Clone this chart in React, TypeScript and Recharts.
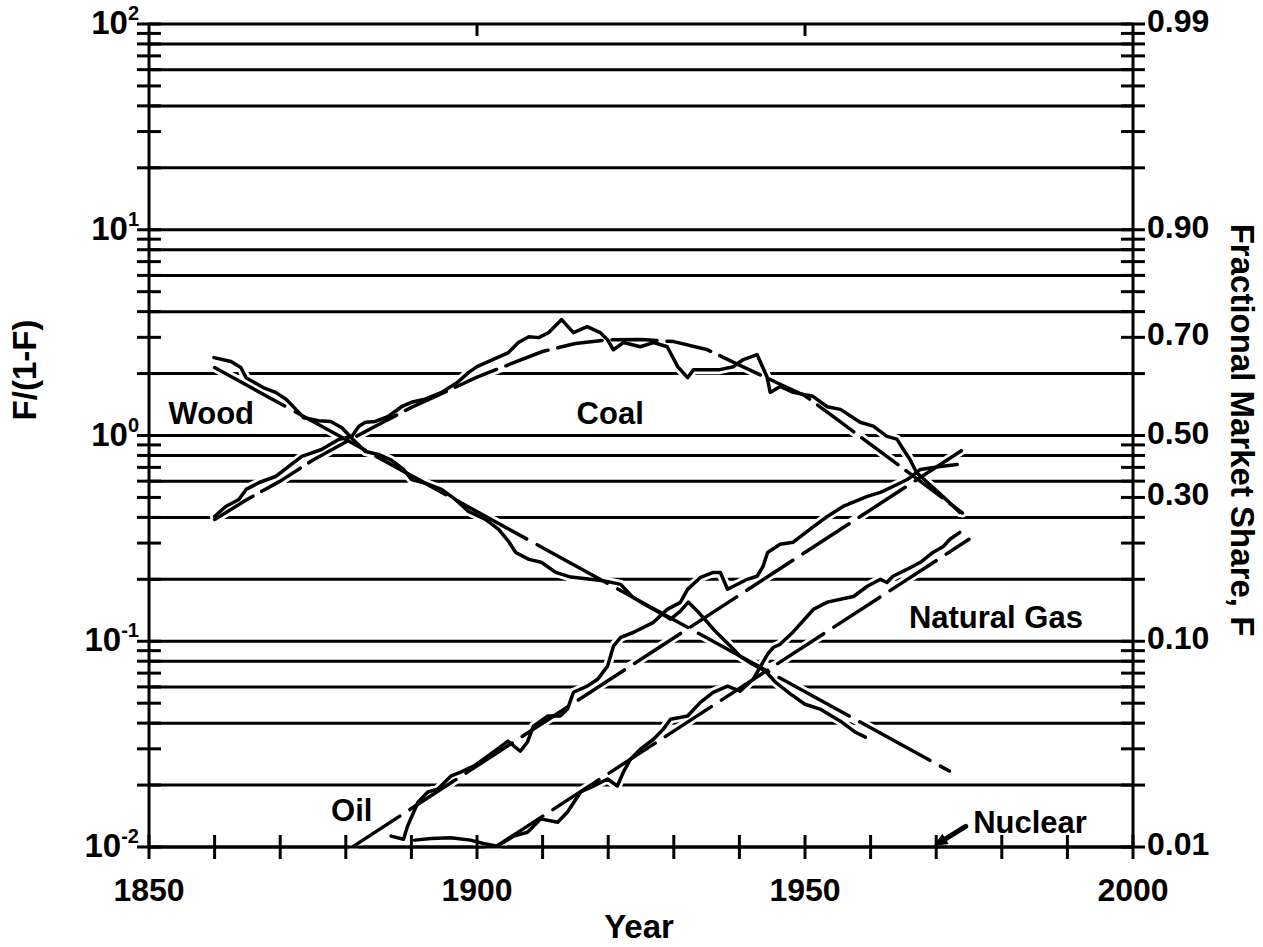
import { LineChart, Line, XAxis, YAxis, ReferenceDot, ReferenceLine } from 'recharts';

// F/(1-F), per year
const woodYears = [1859.9, 1862.5, 1864.0, 1864.8, 1867.4, 1869.3, 1870.9, 1872.4, 1873.6, 1875.9, 1877.7, 1879.4, 1881.1, 1883.0, 1885.0, 1887.0, 1888.8, 1890.0, 1892.2, 1894.6, 1896.7, 1898.7, 1901.3, 1903.3, 1904.8, 1905.9, 1907.9, 1909.8, 1912.0, 1914.3, 1917.3, 1919.6, 1921.9, 1923.7, 1925.7, 1928.0, 1929.5, 1931.0, 1932.2, 1933.6, 1935.1, 1936.3, 1937.6, 1939.1, 1940.1, 1942.0, 1944.0, 1945.5, 1947.8, 1950.0, 1952.3, 1955.4, 1957.7, 1959.2];
const woodShare = [2.39, 2.29, 2.14, 1.91, 1.71, 1.62, 1.5, 1.34, 1.22, 1.18, 1.17, 1.09, 0.956, 0.836, 0.809, 0.757, 0.684, 0.611, 0.585, 0.547, 0.489, 0.428, 0.391, 0.35, 0.306, 0.27, 0.25, 0.242, 0.216, 0.205, 0.2, 0.196, 0.189, 0.164, 0.15, 0.137, 0.128, 0.14, 0.155, 0.14, 0.124, 0.112, 0.102, 0.0914, 0.0845, 0.0773, 0.0715, 0.0632, 0.0553, 0.0494, 0.0468, 0.0409, 0.0361, 0.0342];

const woodFitYears = [1860, 1972];
const woodFitShare = [2.14, 0.0234];

const coalYears = [1860.0, 1861.7, 1863.7, 1864.8, 1866.8, 1869.3, 1871.3, 1873.3, 1876.3, 1878.9, 1880.9, 1882.0, 1883.0, 1884.5, 1886.5, 1888.5, 1890.0, 1892.0, 1894.6, 1897.0, 1898.7, 1900.0, 1901.8, 1904.8, 1906.3, 1907.9, 1909.4, 1910.9, 1912.9, 1914.7, 1916.8, 1918.8, 1919.9, 1920.8, 1922.3, 1924.9, 1926.9, 1929.0, 1930.6, 1932.1, 1933.0, 1935.1, 1937.0, 1939.1, 1940.6, 1942.7, 1944.2, 1944.7, 1946.2, 1948.2, 1951.2, 1953.4, 1955.4, 1958.4, 1960.4, 1962.5, 1964.0, 1965.0, 1966.0, 1967.0, 1969.0, 1971.0, 1973.6];
const coalShare = [0.404, 0.452, 0.489, 0.547, 0.591, 0.632, 0.707, 0.791, 0.855, 0.956, 0.989, 1.11, 1.16, 1.17, 1.24, 1.38, 1.45, 1.5, 1.62, 1.81, 2.02, 2.16, 2.29, 2.53, 2.83, 3.02, 2.99, 3.16, 3.66, 3.16, 3.38, 3.16, 2.92, 2.61, 2.83, 2.7, 2.83, 2.7, 2.16, 1.91, 2.09, 2.09, 2.09, 2.16, 2.34, 2.47, 1.93, 1.62, 1.73, 1.62, 1.55, 1.38, 1.34, 1.16, 1.11, 0.99, 0.96, 0.855, 0.764, 0.661, 0.578, 0.506, 0.423];

const coalFitYears = [1860, 1865, 1870, 1875, 1880, 1885, 1890, 1895, 1900, 1905, 1910, 1915, 1920, 1925, 1930, 1935, 1940, 1945, 1950, 1955, 1960, 1965, 1970, 1974];
const coalFitShare = [0.39, 0.49, 0.6, 0.76, 0.93, 1.13, 1.37, 1.62, 1.92, 2.22, 2.56, 2.8, 2.92, 2.93, 2.86, 2.62, 2.2, 1.85, 1.56, 1.19, 0.906, 0.69, 0.525, 0.42];

const oilYears = [1886.9, 1888.8, 1889.4, 1891.0, 1892.5, 1894.0, 1896.0, 1897.5, 1899.5, 1901.0, 1903.1, 1904.7, 1906.6, 1907.7, 1908.6, 1910.8, 1912.7, 1913.8, 1914.7, 1916.8, 1918.4, 1919.9, 1920.8, 1921.9, 1923.9, 1926.9, 1929.0, 1931.0, 1932.1, 1934.1, 1936.0, 1937.1, 1938.2, 1939.1, 1941.2, 1942.7, 1943.6, 1944.3, 1946.2, 1948.2, 1951.3, 1953.4, 1955.8, 1959.5, 1961.5, 1963.4, 1965.6, 1967.6, 1970.6, 1973.2];
const oilShare = [0.0113, 0.0109, 0.0126, 0.0165, 0.0185, 0.0191, 0.0221, 0.0231, 0.0247, 0.0267, 0.0299, 0.0327, 0.0292, 0.0324, 0.0387, 0.0433, 0.0433, 0.0468, 0.0565, 0.0605, 0.0654, 0.0757, 0.0946, 0.1045, 0.1106, 0.1236, 0.1429, 0.1545, 0.1787, 0.2046, 0.216, 0.216, 0.179, 0.185, 0.2, 0.207, 0.231, 0.27, 0.296, 0.303, 0.361, 0.404, 0.452, 0.506, 0.529, 0.565, 0.611, 0.684, 0.707, 0.723];

const oilFitYears = [1881.2, 1974];
const oilFitShare = [0.0101, 0.85];

const gasYears = [1890.5, 1893.0, 1896.0, 1899.0, 1901.0, 1903.1, 1905.6, 1907.7, 1909.2, 1909.7, 1912.3, 1913.8, 1915.8, 1917.8, 1919.9, 1921.4, 1922.3, 1923.4, 1924.9, 1926.9, 1928.4, 1929.5, 1932.1, 1934.1, 1936.0, 1938.2, 1940.1, 1942.1, 1944.3, 1945.2, 1946.2, 1948.2, 1951.3, 1953.4, 1955.4, 1957.4, 1959.5, 1961.5, 1962.5, 1963.4, 1965.6, 1967.6, 1969.5, 1971.1, 1972.1, 1973.6];
const gasShare = [0.0108, 0.011, 0.0111, 0.0108, 0.0104, 0.0101, 0.0113, 0.0118, 0.0132, 0.0137, 0.0132, 0.0148, 0.0185, 0.0198, 0.0214, 0.0198, 0.0231, 0.0267, 0.0299, 0.0334, 0.0374, 0.0418, 0.0433, 0.0506, 0.0565, 0.0605, 0.0572, 0.0654, 0.0865, 0.0935, 0.0966, 0.111, 0.143, 0.155, 0.16, 0.165, 0.185, 0.2, 0.193, 0.207, 0.224, 0.242, 0.27, 0.289, 0.313, 0.338];

const gasFitYears = [1903, 1975];
const gasFitShare = [0.0101, 0.313];

// arrow from the "Nuclear" label down to the axis
const nuclearArrowYears = [1974.5, 1969.6];
const nuclearArrowShare = [0.0126, 0.0101];

// axis ticks and labels
const yearTicks = [1850, 1860, 1870, 1880, 1890, 1900, 1910, 1920, 1930, 1940, 1950, 1960, 1970, 1980, 1990, 2000];
const yearLabels = [1850, 1900, 1950, 2000];
const topYearTicks = [1900, 1950];
const gridYears = [1850, 2000];
const decades = [0.01, 0.1, 1, 10];
const mantissas = [1, 2, 3, 4, 5, 6, 7, 8, 9];
const ratioTicks = [...decades.flatMap((d) => mantissas.map((m) => m * d)), 100];
const gridValues = [0.01, 0.02, 0.04, 0.06, 0.08, 0.1, 0.2, 0.4, 0.6, 0.8, 1, 2, 4, 6, 8, 10, 20, 40, 60, 80, 100];
const majorValues = [0.01, 0.1, 1, 10, 100];
const majorExponents = ['-2', '-1', '0', '1', '2'];
const shareTickValues = [100, 10, 3, 1, 0.5, 0.1, 0.01];
const shareTickLabels = ['0.99', '0.90', '0.70', '0.50', '0.30', '0.10', '0.01'];

const plotLabels = [
  { text: 'Wood', year: 1859.5, share: 1.28 },
  { text: 'Coal', year: 1920.3, share: 1.28 },
  { text: 'Natural Gas', year: 1979.1, share: 0.131 },
  { text: 'Oil', year: 1880.9, share: 0.0151 },
  { text: 'Nuclear', year: 1984.3, share: 0.0132 },
];

const FONT = '"Liberation Sans", Arial, Helvetica, sans-serif';
const INK = '#000';
const HALO = '#fff';

const toPoints = (years: number[], shares: number[]) => years.map((year, i) => ({ year, share: shares[i] }));
const near = (a: number, b: number) => Math.abs(a - b) <= b * 1e-6;

// built once so the series keep a stable identity between renders
const gridRules = gridValues.map((v) => ({ key: `grid-${v}`, data: gridYears.map((year) => ({ year, share: v })) }));
const series = [
  { key: 'woodFit', data: toPoints(woodFitYears, woodFitShare), dash: '80 12' },
  { key: 'coalFit', data: toPoints(coalFitYears, coalFitShare), dash: '45 10' },
  { key: 'oilFit', data: toPoints(oilFitYears, oilFitShare), dash: '55 12' },
  { key: 'gasFit', data: toPoints(gasFitYears, gasFitShare), dash: '55 12' },
  { key: 'wood', data: toPoints(woodYears, woodShare) },
  { key: 'coal', data: toPoints(coalYears, coalShare) },
  { key: 'oil', data: toPoints(oilYears, oilShare) },
  { key: 'gas', data: toPoints(gasYears, gasShare) },
];
const arrowSegment = nuclearArrowYears.map((year, i) => ({ x: year, y: nuclearArrowShare[i] }));

function LeftTick({ x, y, payload }: any) {
  const i = majorValues.findIndex((v) => near(payload.value, v));
  return (
    <g>
      <line x1={x - 12} x2={x + 12} y1={y} y2={y} stroke={INK} strokeWidth={3} />
      {i >= 0 && (
        <text x={x - 10} y={y + 10} textAnchor="end" fontFamily={FONT} fontWeight={700} fontSize={33} fill={INK}>
          10<tspan dy={-14} fontSize={20}>{majorExponents[i]}</tspan>
        </text>
      )}
    </g>
  );
}

function RightTick({ x, y, payload }: any) {
  const i = shareTickValues.findIndex((v) => near(payload.value, v));
  return (
    <g>
      <line x1={x - 12} x2={x + 12} y1={y} y2={y} stroke={INK} strokeWidth={3} />
      {i >= 0 && (
        <text x={x + 14} y={y + 8} textAnchor="start" fontFamily={FONT} fontWeight={700} fontSize={32} fill={INK}>
          {shareTickLabels[i]}
        </text>
      )}
    </g>
  );
}

function YearTick({ x, y, payload }: any) {
  const labelled = yearLabels.includes(payload.value);
  return (
    <g>
      <line x1={x} x2={x} y1={y - 12} y2={y + 12} stroke={INK} strokeWidth={3} />
      {labelled && (
        <text x={x} y={y + 54} textAnchor="middle" fontFamily={FONT} fontWeight={700} fontSize={32} fill={INK}>
          {payload.value}
        </text>
      )}
    </g>
  );
}

function TopTick({ x, y }: any) {
  return <line x1={x} x2={x} y1={y} y2={y + 12} stroke={INK} strokeWidth={3} />;
}

function NuclearArrow({ x1, y1, x2, y2 }: any) {
  const ang = Math.atan2(y2 - y1, x2 - x1);
  const bx = x2 - 14 * Math.cos(ang);
  const by = y2 - 14 * Math.sin(ang);
  const px = -Math.sin(ang) * 6;
  const py = Math.cos(ang) * 6;
  return (
    <g>
      <line x1={x1} y1={y1} x2={bx} y2={by} stroke={INK} strokeWidth={5} strokeLinecap="round" />
      <polygon points={`${x2},${y2} ${bx + px},${by + py} ${bx - px},${by - py}`} fill={INK} />
    </g>
  );
}

const textStyle = { fontFamily: FONT, fontWeight: 700, fontSize: 31, fill: INK };
const titleStyle = { ...textStyle, fontSize: 33 };

const lineBase = {
  xAxisId: 'bottom',
  yAxisId: 'left',
  dataKey: 'share',
  type: 'linear' as const,
  dot: false,
  activeDot: false,
  isAnimationActive: false,
};

export default function App() {
  return (
    <div style={{ position: 'absolute', left: 0, top: 0, width: 1263, height: 947, background: '#fff' }}>
      <LineChart width={1263} height={947} margin={{ top: 0, right: 0, bottom: 0, left: 0 }}>
        <XAxis
          xAxisId="bottom"
          dataKey="year"
          type="number"
          domain={[1850, 2000]}
          ticks={yearTicks}
          interval={0}
          height={100}
          tickSize={0}
          tickMargin={0}
          tickLine={false}
          axisLine={{ stroke: INK, strokeWidth: 3 }}
          tick={(p: any) => <YearTick {...p} />}
          label={{
            content: () => (
              <text x={639} y={938} textAnchor="middle" style={titleStyle}>
                Year
              </text>
            ),
          }}
        />
        <XAxis
          xAxisId="top"
          orientation="top"
          dataKey="year"
          type="number"
          domain={[1850, 2000]}
          allowDataOverflow
          ticks={topYearTicks}
          interval={0}
          height={24}
          tickSize={0}
          tickMargin={0}
          tickLine={false}
          axisLine={false}
          tick={(p: any) => <TopTick {...p} />}
        />
        <YAxis
          yAxisId="left"
          type="number"
          scale="log"
          domain={[0.01, 100]}
          ticks={ratioTicks}
          interval={0}
          width={149}
          tickSize={0}
          tickMargin={0}
          tickLine={false}
          axisLine={{ stroke: INK, strokeWidth: 3 }}
          tick={(p: any) => <LeftTick {...p} />}
          label={{
            content: () => (
              <text transform="translate(36,370) rotate(-90)" textAnchor="middle" style={titleStyle}>
                F/(1-F)
              </text>
            ),
          }}
        />
        <YAxis
          yAxisId="right"
          orientation="right"
          type="number"
          scale="log"
          domain={[0.01, 100]}
          allowDataOverflow
          ticks={ratioTicks}
          interval={0}
          width={130}
          tickSize={0}
          tickMargin={0}
          tickLine={false}
          axisLine={{ stroke: INK, strokeWidth: 3 }}
          tick={(p: any) => <RightTick {...p} />}
          label={{
            content: () => (
              <text transform="translate(1231,430) rotate(90)" textAnchor="middle" style={titleStyle}>
                Fractional Market Share, F
              </text>
            ),
          }}
        />

        {/* grid rules, then white halos so the rules break where the curves cross, then the curves */}
        {gridRules.map((g) => (
          <Line key={g.key} {...lineBase} zIndex={100} data={g.data} stroke={INK} strokeWidth={3} />
        ))}
        {series.map((s) => (
          <Line
            key={`halo-${s.key}`}
            {...lineBase}
            zIndex={200}
            data={s.data}
            stroke={HALO}
            strokeWidth={9}
            strokeLinecap="round"
            strokeLinejoin="round"
          />
        ))}
        {series.map((s) => (
          <Line
            key={s.key}
            {...lineBase}
            zIndex={300}
            data={s.data}
            stroke={INK}
            strokeWidth={3.5}
            strokeDasharray={s.dash}
            strokeLinejoin="round"
            strokeLinecap="round"
          />
        ))}

        <ReferenceLine
          xAxisId="bottom"
          yAxisId="left"
          segment={arrowSegment}
          ifOverflow="visible"
          shape={(p: any) => <NuclearArrow {...p} />}
        />
        {plotLabels.map((l) => (
          <ReferenceDot
            key={l.text}
            xAxisId="bottom"
            yAxisId="left"
            x={l.year}
            y={l.share}
            r={1}
            ifOverflow="visible"
            shape={(p: any) => (
              <text x={p.cx} y={p.cy + 11} textAnchor="middle" style={textStyle}>
                {l.text}
              </text>
            )}
          />
        ))}
      </LineChart>
    </div>
  );
}
